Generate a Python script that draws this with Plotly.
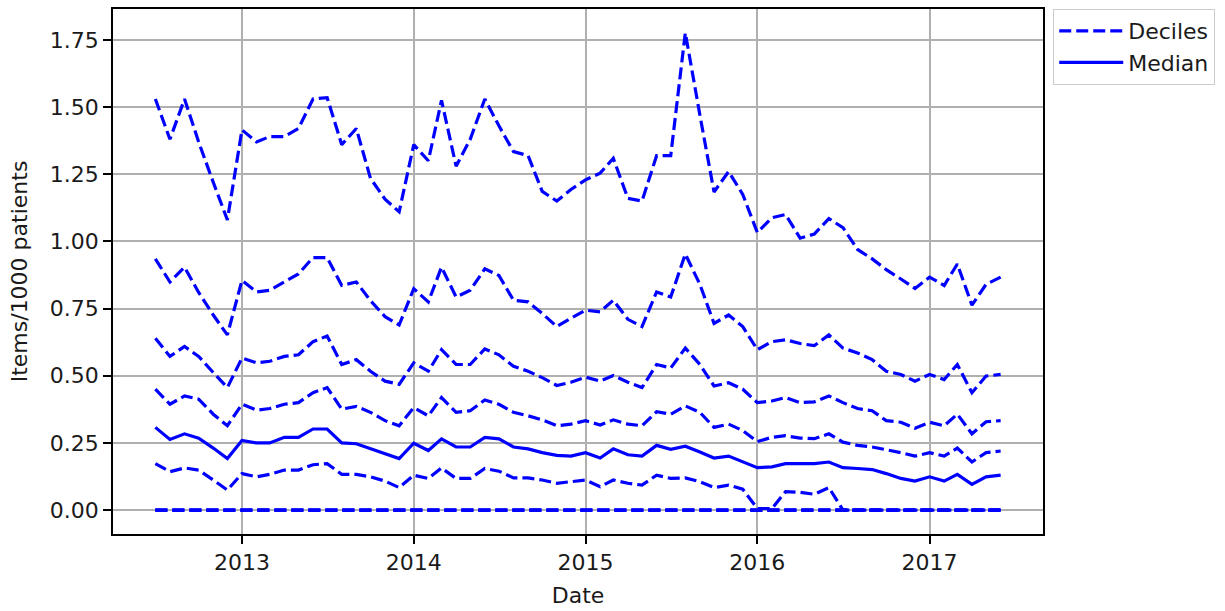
import pandas as pd
import plotly.graph_objects as go

dates = pd.date_range("2012-07-01", periods=60, freq="MS")

p90 = [1.53, 1.38, 1.53, 1.37, 1.22, 1.08,
       1.415, 1.37, 1.39, 1.39, 1.42, 1.53, 1.535, 1.36, 1.42, 1.235, 1.157, 1.11,
       1.36, 1.30, 1.525, 1.28, 1.38, 1.53, 1.43, 1.334, 1.319, 1.186, 1.15, 1.193,
       1.229, 1.254, 1.309, 1.16, 1.15, 1.319, 1.319, 1.776, 1.47, 1.184, 1.26, 1.175,
       1.033, 1.088, 1.10, 1.012, 1.027, 1.085, 1.051, 0.97, 0.935, 0.895, 0.86, 0.825,
       0.867, 0.836, 0.916, 0.763, 0.84, 0.867]
p80 = [0.935, 0.849, 0.904, 0.81, 0.726, 0.652,
       0.855, 0.812, 0.818, 0.849, 0.879, 0.94, 0.94, 0.836, 0.849, 0.78, 0.72, 0.689,
       0.824, 0.775, 0.904, 0.793, 0.818, 0.898, 0.873, 0.781, 0.775, 0.732, 0.683, 0.714,
       0.744, 0.738, 0.781, 0.71, 0.683, 0.812, 0.793, 0.953, 0.84, 0.695, 0.726, 0.683,
       0.597, 0.627, 0.634, 0.62, 0.612, 0.652, 0.603, 0.585, 0.56, 0.517, 0.505, 0.48,
       0.505, 0.486, 0.542, 0.437, 0.499, 0.505]
p70 = [0.64, 0.572, 0.609, 0.572, 0.512, 0.456,
       0.566, 0.548, 0.554, 0.572, 0.578, 0.627, 0.648, 0.542, 0.56, 0.517, 0.48, 0.468,
       0.548, 0.517, 0.597, 0.542, 0.542, 0.60, 0.578, 0.535, 0.517, 0.493, 0.464, 0.476,
       0.495, 0.48, 0.501, 0.476, 0.456, 0.542, 0.529, 0.603, 0.542, 0.462, 0.474, 0.45,
       0.40, 0.406, 0.419, 0.40, 0.403, 0.425, 0.40, 0.378, 0.37, 0.333, 0.327, 0.305,
       0.327, 0.314, 0.357, 0.284, 0.329, 0.333]
p60 = [0.45, 0.394, 0.425, 0.413, 0.357, 0.314,
       0.394, 0.372, 0.378, 0.394, 0.40, 0.437, 0.456, 0.376, 0.386, 0.364, 0.333, 0.314,
       0.382, 0.351, 0.419, 0.364, 0.37, 0.41, 0.394, 0.364, 0.351, 0.336, 0.314, 0.32,
       0.333, 0.317, 0.336, 0.32, 0.314, 0.366, 0.357, 0.388, 0.364, 0.308, 0.32, 0.296,
       0.255, 0.271, 0.277, 0.268, 0.266, 0.284, 0.253, 0.241, 0.235, 0.225, 0.214, 0.201,
       0.214, 0.201, 0.231, 0.179, 0.214, 0.22]
median = [0.308, 0.263, 0.284, 0.268, 0.231, 0.192,
          0.259, 0.25, 0.25, 0.271, 0.271, 0.302, 0.302, 0.25, 0.247, 0.228, 0.21, 0.192,
          0.249, 0.222, 0.265, 0.235, 0.235, 0.271, 0.265, 0.235, 0.228, 0.214, 0.204, 0.201,
          0.214, 0.194, 0.228, 0.206, 0.201, 0.241, 0.226, 0.238, 0.216, 0.194, 0.201, 0.179,
          0.158, 0.161, 0.173, 0.173, 0.173, 0.179, 0.158, 0.155, 0.151, 0.136, 0.118, 0.108,
          0.124, 0.108, 0.133, 0.096, 0.124, 0.130]
p40 = [0.173, 0.143, 0.157, 0.149, 0.112, 0.075,
       0.136, 0.124, 0.133, 0.149, 0.149, 0.169, 0.173, 0.133, 0.133, 0.124, 0.108, 0.084,
       0.13, 0.118, 0.157, 0.118, 0.118, 0.155, 0.145, 0.12, 0.12, 0.112, 0.10, 0.106,
       0.112, 0.087, 0.112, 0.10, 0.093, 0.13, 0.118, 0.12, 0.106, 0.084, 0.093, 0.078,
       0.006, 0.006, 0.069, 0.066, 0.059, 0.084, 0.0, 0.0, 0.0, 0.0, 0.0, 0.0,
       0.0, 0.0, 0.0, 0.0, 0.0, 0.0]
p30 = [0.0] * 60
p20 = [0.0] * 60
p10 = [0.0] * 60

deciles = [p10, p20, p30, p40, p60, p70, p80, p90]

BLUE = "#0000ff"
FONT = dict(family="DejaVu Sans", size=22, color="#1a1a1a")

fig = go.Figure()
for i, series in enumerate(deciles):
    fig.add_trace(go.Scatter(
        x=dates, y=series, mode="lines", name="Deciles",
        legendgroup="deciles", showlegend=(i == 0),
        line=dict(color=BLUE, width=3.2, dash="12px,5px"),
    ))
fig.add_trace(go.Scatter(
    x=dates, y=median, mode="lines", name="Median",
    line=dict(color=BLUE, width=3.2),
))

axis_common = dict(
    showline=True, linecolor="black", linewidth=1.8, mirror=True,
    showgrid=True, gridcolor="#b0b0b0", gridwidth=1.8,
    ticks="outside", ticklen=8, tickwidth=1.8, tickcolor="black",
    zeroline=False, tickfont=FONT,
)

fig.update_layout(
    width=1225, height=611,
    margin=dict(l=113, r=182, t=7, b=75),
    paper_bgcolor="white", plot_bgcolor="white",
    font=FONT,
    xaxis=dict(
        range=["2012-04-02", "2017-08-30"],
        tick0="2013-01-01", dtick="M12", tickformat="%Y",
        title=dict(text="Date", font=FONT, standoff=13),
        **axis_common,
    ),
    yaxis=dict(
        range=[-0.0888, 1.8648],
        tick0=0, dtick=0.25, tickformat=".2f",
        title=dict(text="Items/1000 patients", font=FONT, standoff=16),
        **axis_common,
    ),
    legend=dict(
        x=1.011, y=1.0, xanchor="left", yanchor="top",
        bordercolor="#cccccc", borderwidth=1, bgcolor="white",
        font=FONT, tracegroupgap=0, itemwidth=64,
    ),
)

fig.write_html("out.html", config={"displayModeBar": False},
               post_script="document.body.style.margin='0px';")
